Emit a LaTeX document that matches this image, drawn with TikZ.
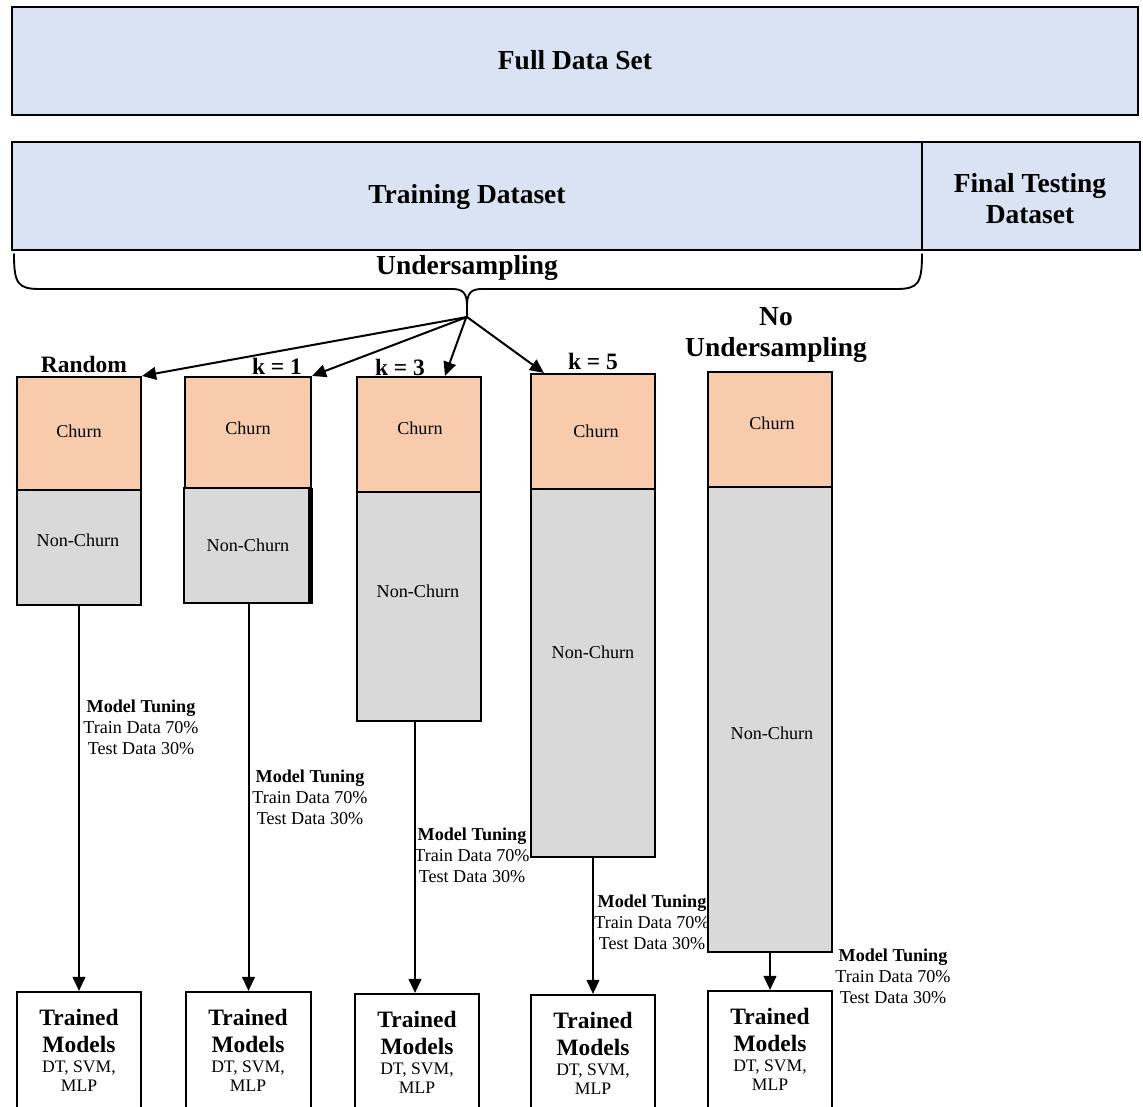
\documentclass[tikz,border=0pt]{standalone}
\usepackage{fontspec}
\setmainfont{Liberation Serif}
\usetikzlibrary{fit,arrows.meta}
\definecolor{dsblue}{HTML}{DAE3F3}
\definecolor{churnc}{HTML}{F8CBAD}
\definecolor{nonc}{HTML}{D9D9D9}
\tikzset{
  frame/.style={draw=black, line width=1.6pt, inner sep=0pt},
  bigt/.style={font=\fontsize{20.6}{23.2}\selectfont\bfseries, align=center, inner sep=0pt},
  midt/.style={font=\fontsize{17.6}{20.3}\selectfont\bfseries, align=center, inner sep=0pt},
  smallt/.style={font=\fontsize{13.6}{15.8}\selectfont, align=center, inner sep=0pt},
  modelt/.style={font=\fontsize{13.2}{14.3}\selectfont, align=center, inner sep=0pt},
  tuning/.style={font=\fontsize{13.6}{15.8}\selectfont, align=center, inner sep=0pt},
  conn/.style={line width=1.5pt, -{Triangle[length=10.5pt,width=9.5pt]}},
  bracepath/.style={line width=1.4pt, line cap=round},
}
\begin{document}
\begin{tikzpicture}[x=0.75pt,y=-0.75pt]
\useasboundingbox (0,0) rectangle (1143,1107);

% data set bars
\node[frame, fill=dsblue, fit={(12,7)(1138,115)}] (full) {};
\node[bigt] (fullt) at (575,60) {Full Data Set};
\node[frame, fill=dsblue, fit={(12,142)(922,250)}] (train) {};
\node[bigt] (traint) at (467,197) {Training Dataset};
\node[frame, fill=dsblue, fit={(922,142)(1140,250)}] (final) {};
\node[bigt] (finalt) at (1030,199) {Final Testing\\Dataset};

% brace under the training set
\draw[bracepath] (14,254) .. controls (14,284) and (18,289) .. (40,289) -- (452,289)
  .. controls (463,289) and (467,293) .. (467,306) -- (467,317);
\draw[bracepath] (922,254) .. controls (922,284) and (918,289) .. (896,289) -- (482,289)
  .. controls (471,289) and (467,293) .. (467,306);
\coordinate (hub) at (467,317);
\node[bigt] (under) at (467,268) {Undersampling};

% tuning labels
\node[tuning] (rtun) at (141,727) {\textbf{Model Tuning}\\Train Data 70\%\\Test Data 30\%};
\node[tuning] (k1tun) at (310,797) {\textbf{Model Tuning}\\Train Data 70\%\\Test Data 30\%};
\node[tuning] (k3tun) at (472,855) {\textbf{Model Tuning}\\Train Data 70\%\\Test Data 30\%};
\node[tuning] (k5tun) at (652,922) {\textbf{Model Tuning}\\Train Data 70\%\\Test Data 30\%};
\node[tuning] (nutun) at (893,976) {\textbf{Model Tuning}\\Train Data 70\%\\Test Data 30\%};

% sampled data sets
\node[frame, fill=churnc, fit={(17,377)(141,490)}] (rch) {};
\node[frame, fill=nonc, fit={(17,490)(141,605)}] (rnon) {};
\node[frame, fill=churnc, fit={(185,377)(311,488)}] (k1ch) {};
\node[frame, fill=nonc, fit={(184,488)(309,603)}] (k1non) {};
\draw[line width=2.6pt] (311,488) -- (311,604);
\node[frame, fill=churnc, fit={(357,377)(481,492)}] (k3ch) {};
\node[frame, fill=nonc, fit={(357,492)(481,721)}] (k3non) {};
\node[frame, fill=churnc, fit={(531,374)(655,489)}] (k5ch) {};
\node[frame, fill=nonc, fit={(531,489)(655,857)}] (k5non) {};
\node[frame, fill=churnc, fit={(708,372)(832,487)}] (nuch) {};
\node[frame, fill=nonc, fit={(708,487)(832,952)}] (nunon) {};

\node[smallt] (rcht) at (79,431) {Churn};
\node[smallt] (k1cht) at (248,428) {Churn};
\node[smallt] (k3cht) at (420,428) {Churn};
\node[smallt] (k5cht) at (596,431) {Churn};
\node[smallt] (nucht) at (772,423) {Churn};
\node[smallt] (rnont) at (78,540) {Non-Churn};
\node[smallt] (k1nont) at (248,545) {Non-Churn};
\node[smallt] (k3nont) at (418,591) {Non-Churn};
\node[smallt] (k5nont) at (593,652) {Non-Churn};
\node[smallt] (nunont) at (772,733) {Non-Churn};

% method labels
\node[midt] (rlab) at (84,364) {Random};
\node[midt] (k1lab) at (277,366) {k = 1};
\node[midt] (k3lab) at (400,367) {k = 3};
\node[midt] (k5lab) at (593,361) {k = 5};
\node[bigt] (nulab) at (776,335) {No\\Undersampling};

% trained model boxes
\node[frame, fit={(17,992)(141,1116)}] (rtm) {};
\node[frame, fit={(186,992)(311,1116)}] (k1tm) {};
\node[frame, fit={(355,994)(479,1116)}] (k3tm) {};
\node[frame, fit={(531,995)(655,1116)}] (k5tm) {};
\node[frame, fit={(708,991)(832,1116)}] (nutm) {};
\foreach \n/\x/\y in {rtm/79/992, k1tm/248/992, k3tm/417/994, k5tm/593/995, nutm/770/991}{
  \node[midt] (\n-a) at (\x,\y+38.5) {Trained\\Models};
  \node[modelt] (\n-b) at (\x,\y+84.5) {DT, SVM,\\MLP};
}

% arrows from the brace to each sampled set
\draw[conn] (hub) -- (rch.north east);
\draw[conn] (hub) -- (k1ch.north east);
\draw[conn] ([xshift=-0.5pt]hub) -- ([xshift=19.5pt]k3ch.north);
\draw[conn] (hub) -- ([xshift=10.5pt]k5ch.north west);

% arrows to the trained models
\draw[conn] (rnon.south -| rtm.north) -- (rtm.north);
\draw[conn] (k1non.south -| k1tm.north) -- (k1tm.north);
\draw[conn] ([xshift=-3pt]k3non.south) -- ([xshift=-3pt]k3non.south |- k3tm.north);
\draw[conn] (k5non.south -| k5tm.north) -- (k5tm.north);
\draw[conn] (nunon.south -| nutm.north) -- (nutm.north);
\end{tikzpicture}
\end{document}
